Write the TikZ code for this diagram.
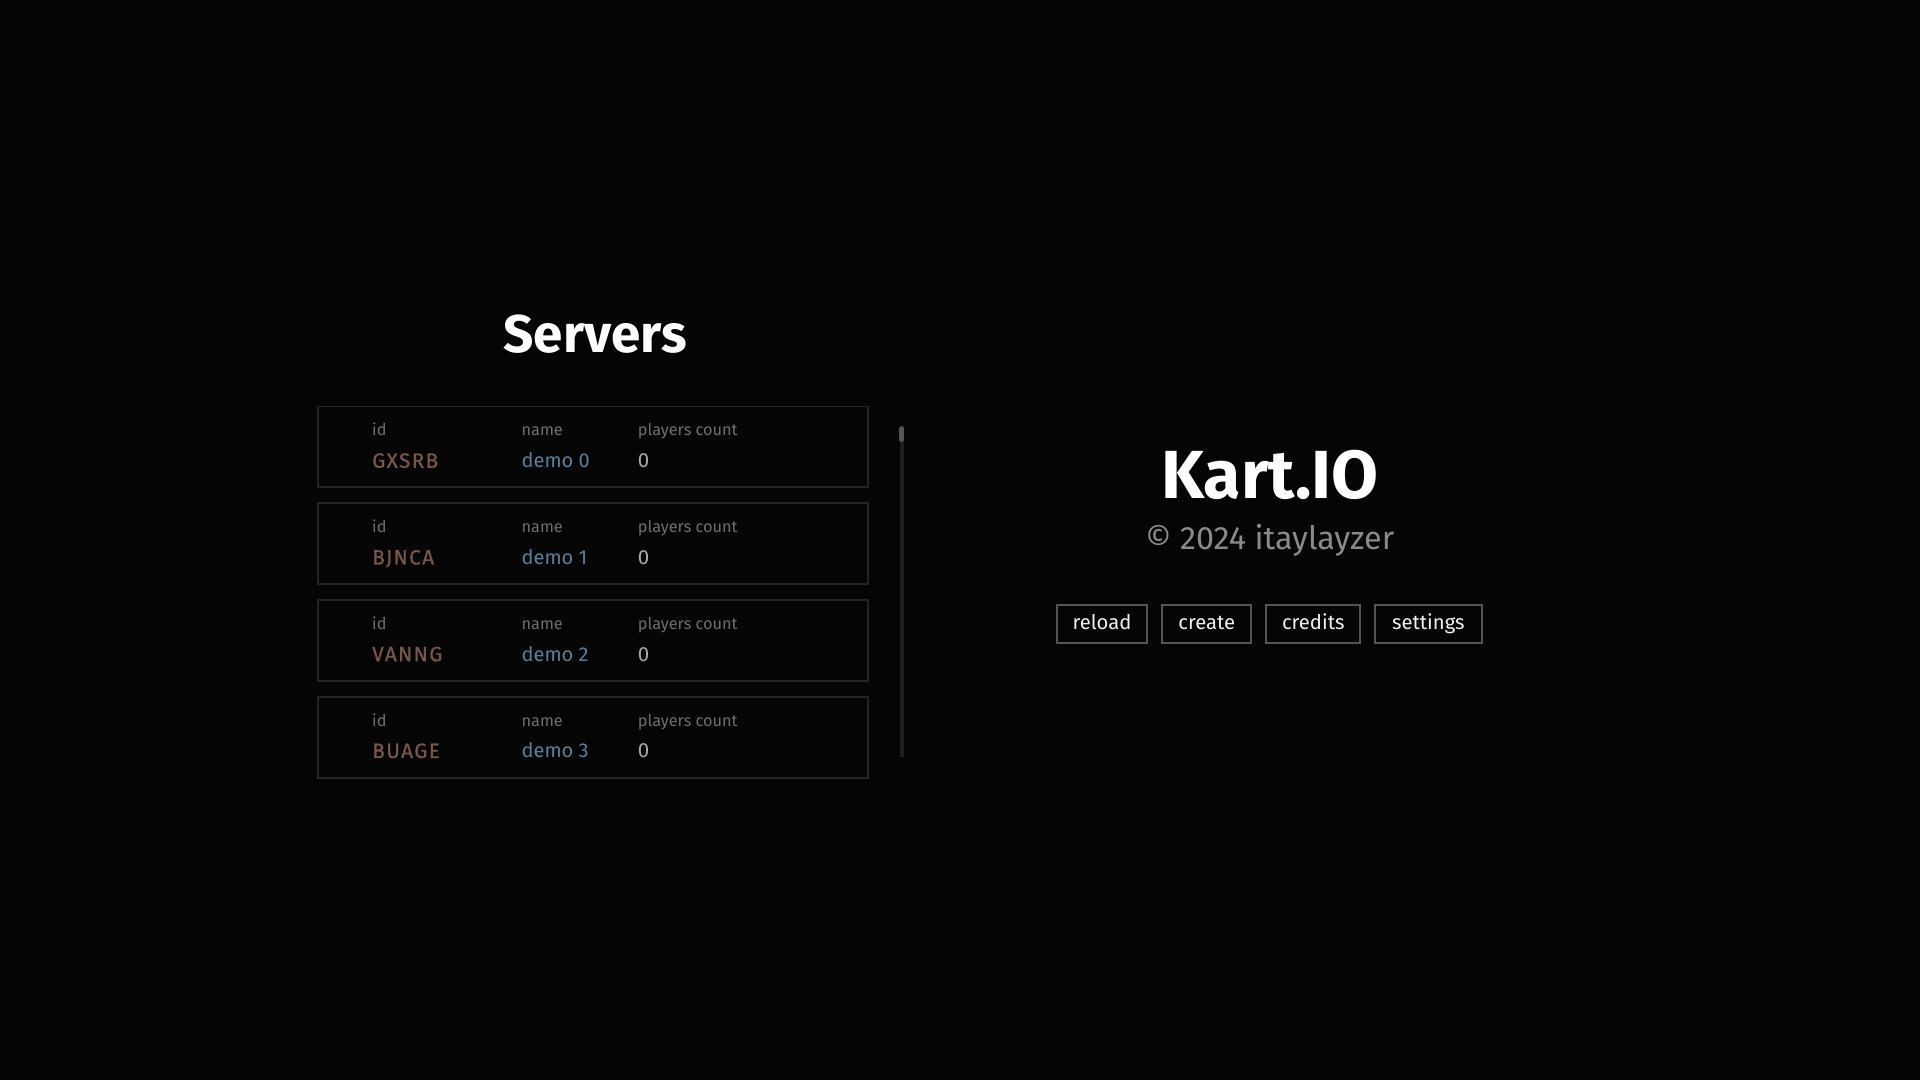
\documentclass[tikz,border=0pt]{standalone}
\usepackage{fontspec}
\setmainfont{Fira Sans}
\newfontfamily\idfont[LetterSpace=7,FakeBold=0.6]{Fira Sans}
\definecolor{bg}{RGB}{5,5,5}
\definecolor{rowline}{RGB}{36,36,36}
\definecolor{lblgray}{RGB}{110,110,110}
\definecolor{idbrown}{RGB}{122,86,72}
\definecolor{nameblue}{RGB}{88,128,152}
\definecolor{zerogray}{RGB}{170,170,170}
\definecolor{copygray}{RGB}{138,138,138}
\definecolor{btnline}{RGB}{84,84,84}
\definecolor{btntext}{RGB}{242,240,235}
\definecolor{track}{RGB}{30,30,30}
\definecolor{thumb}{RGB}{85,85,85}
\tikzset{
  txt/.style={inner sep=0pt, outer sep=0pt, anchor=base west},
  lbl/.style={txt, text=lblgray, font=\fontsize{3.78pt}{4pt}\selectfont},
  idval/.style={txt, text=idbrown, font=\idfont\fontsize{4.8pt}{5pt}\selectfont},
  nameval/.style={txt, text=nameblue, font=\fontsize{4.65pt}{5pt}\selectfont},
  cntval/.style={txt, text=zerogray, font=\fontsize{4.75pt}{5pt}\selectfont},
  rowbox/.style={draw=rowline, line width=0.45pt, minimum width=4.49cm, minimum height=0.66cm, inner sep=0pt},
  btn/.style={draw=btnline, line width=0.45pt, minimum height=0.31cm, inner sep=0pt,
    text=btntext, font=\fontsize{4.7pt}{5pt}\selectfont, text height=3.4pt, text depth=0.9pt},
  titletxt/.style={inner sep=0pt, anchor=base, text=white, font=\bfseries},
}
\begin{document}
\begin{tikzpicture}[x=0.01cm,y=-0.01cm]
\fill[bg] (0,0) rectangle (1568,882);
\useasboundingbox (0,0) rectangle (1568,882);

\node[titletxt, font=\bfseries\fontsize{12.3pt}{14pt}\selectfont] (servers) at (486,288) {Servers};

\foreach \id/\i in {GXSRB/0,BJNCA/1,VANNG/2,BUAGE/3}{
  \node[rowbox] (row\i) at (484.5,365+79*\i) {};
  \node[lbl] (idl\i) at (304,356+79*\i) {id};
  \node[lbl] (namel\i) at (426,356+79*\i) {name};
  \node[lbl] (cntl\i) at (521,356+79*\i) {players count};
  \node[idval] (idv\i) at (304,382+79*\i) {\id};
  \node[nameval] (namev\i) at (426,382+79*\i) {demo \i};
  \node[cntval] (cntv\i) at (521,382+79*\i) {0};
}

\coordinate (trtop) at (736.5,348);
\coordinate (trbot) at (736.5,618);
\draw[track, line width=0.85pt] (trtop) -- (trbot);
\coordinate (thtop) at (736.5,350);
\coordinate (thbot) at (736.5,359);
\draw[thumb, line width=1.1pt, line cap=round] (thtop) -- (thbot);

\node[titletxt, font=\bfseries\fontsize{15.8pt}{17pt}\selectfont] (kart) at (1037,407) {Kart.IO};
\node[inner sep=0pt, anchor=base, text=copygray, font=\fontsize{7.5pt}{8pt}\selectfont] (copy) at (1037,449) {© 2024 itaylayzer};

\node[btn, minimum width=0.74cm] (reload) at (900,509.5) {reload};
\node[btn, minimum width=0.73cm] (create) at (985.5,509.5) {create};
\node[btn, minimum width=0.77cm] (credits) at (1072.5,509.5) {credits};
\node[btn, minimum width=0.87cm] (settings) at (1166.5,509.5) {settings};
\end{tikzpicture}
\end{document}
